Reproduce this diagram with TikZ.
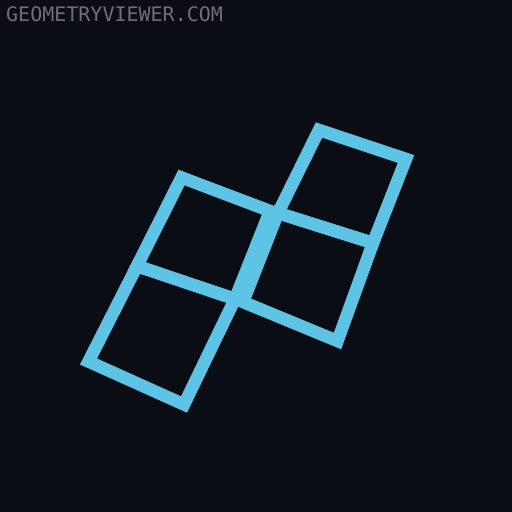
\documentclass[tikz,border=0pt]{standalone}
\usepackage{fontspec}
\newfontfamily\wmfont{DejaVu Sans Mono}
\definecolor{bg}{HTML}{0B0D14}
\definecolor{framec}{HTML}{5EC4E6}
\definecolor{wmc}{HTML}{707070}
\begin{document}
\begin{tikzpicture}[x=1pt,y=-1pt,
  sq/.style={draw=framec, line width=12.5pt, line join=miter}]
\fill[bg] (0,0) rectangle (512,512);
\useasboundingbox (0,0) rectangle (512,512);
% grid corners (centre lines)
\coordinate (T1) at (181.5,177.5);
\coordinate (R1) at (270,211);
\coordinate (B1) at (235,299);
\coordinate (L1) at (137,266);
\coordinate (P02) at (88.5,361.5);
\coordinate (P12) at (184,404.5);
\coordinate (P10) at (278,213);
\coordinate (P20) at (373,243);
\coordinate (P21) at (337.5,341);
\coordinate (P11) at (243,302);
\coordinate (P1m) at (319,130);
\coordinate (P2m) at (406,159);
% squares
\draw[sq] (T1) -- (R1) -- (B1) -- (L1) -- cycle;
\draw[sq] (L1) -- (B1) -- (P12) -- (P02) -- cycle;
\draw[sq] (P10) -- (P20) -- (P21) -- (P11) -- cycle;
\draw[sq] (P1m) -- (P2m) -- (P20) -- (P10) -- cycle;
\node[anchor=base west, inner sep=0, text=wmc, font=\wmfont\fontsize{20}{20}\selectfont] (wm) at (6,21) {GEOMETRYVIEWER.COM};
\end{tikzpicture}
\end{document}
